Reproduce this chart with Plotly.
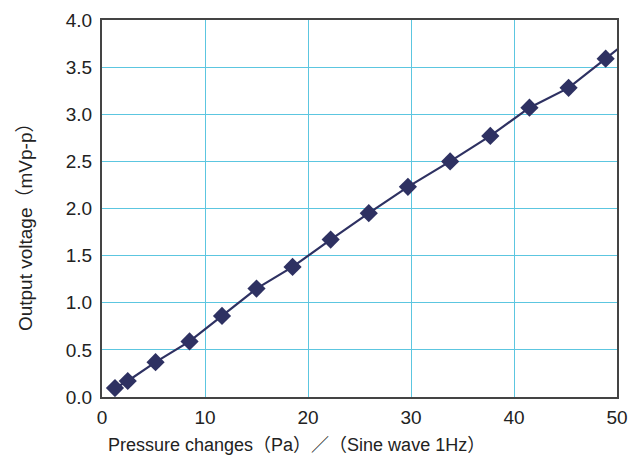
import plotly.graph_objects as go

pressure = [1.26, 2.5, 5.2, 8.5, 11.65, 15.0, 18.5, 22.2, 25.9, 29.7, 33.8, 37.7, 41.5, 45.3, 48.9, 52.5]
voltage = [0.095, 0.17, 0.37, 0.59, 0.86, 1.15, 1.38, 1.67, 1.95, 2.23, 2.50, 2.77, 3.07, 3.28, 3.59, 3.90]

x_ticks = [0, 10, 20, 30, 40, 50]
y_ticks = [0.0, 0.5, 1.0, 1.5, 2.0, 2.5, 3.0, 3.5, 4.0]
y_labels = ["0.0", "0.5", "1.0", "1.5", "2.0", "2.5", "3.0", "3.5", "4.0"]

x_title = "Pressure changes（Pa）／（Sine wave 1Hz）"
y_title = "Output voltage（mVp-p）"

fig = go.Figure()
fig.add_trace(go.Scatter(
    x=pressure, y=voltage, mode="lines+markers",
    line=dict(color="#2E3162", width=2.2),
    marker=dict(symbol="diamond", size=14, color="#2E3162"),
    cliponaxis=True,
))

font = "Liberation Sans, Arial, Noto Sans CJK JP, sans-serif"
fig.update_layout(
    width=630, height=460,
    margin=dict(l=102, r=13, t=20, b=63, autoexpand=False),
    paper_bgcolor="white", plot_bgcolor="white",
    showlegend=False,
    font=dict(family=font, size=19, color="#222222"),
    xaxis=dict(
        range=[0, 50], tickvals=x_ticks, ticktext=[str(v) for v in x_ticks],
        showgrid=True, gridcolor="#5CC6E0", gridwidth=1,
        showline=True, linecolor="#444444", linewidth=2, mirror=True,
        zeroline=False, ticks="", tickfont=dict(size=19), automargin=False,
        ticklabelstandoff=2,
    ),
    yaxis=dict(
        range=[0, 4.0], tickvals=y_ticks, ticktext=y_labels,
        showgrid=True, gridcolor="#5CC6E0", gridwidth=1,
        showline=True, linecolor="#444444", linewidth=2, mirror=True,
        zeroline=False, ticks="", tickfont=dict(size=19), automargin=False,
        ticklabelstandoff=4,
    ),
    annotations=[
        dict(text=x_title, xref="paper", yref="paper", x=0.378, y=-0.127,
             xanchor="center", yanchor="middle", showarrow=False, font=dict(size=18)),
        dict(text=y_title, xref="paper", yref="paper", x=-0.1495, y=0.464,
             xanchor="center", yanchor="middle", showarrow=False, textangle=-90,
             font=dict(size=19)),
    ],
)

fig.write_html("out.html", config={"displayModeBar": False},
               post_script="document.body.style.margin='0';")
